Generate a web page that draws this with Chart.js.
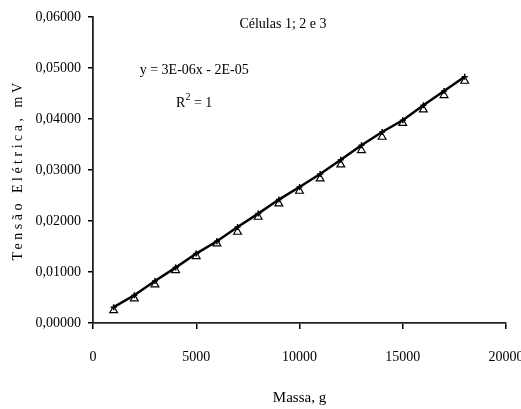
<!DOCTYPE html>
<html>
<head>
<meta charset="utf-8">
<script src="https://cdn.jsdelivr.net/npm/chart.js@4/dist/chart.umd.min.js"></script>
<style>
  html, body { margin: 0; padding: 0; background: #fff; }
  #wrap { width: 521px; height: 409px; }
</style>
</head>
<body>
<div id="wrap"><canvas id="chart" width="521" height="409"></canvas></div>
<script>
// massa (g)
const massa = [1000, 2000, 3000, 4000, 5000, 6000, 7000, 8000, 9000, 10000, 11000, 12000, 13000, 14000, 15000, 16000, 17000, 18000];
// tensão medida (triângulos)
const tensaoPontos = [0.00248, 0.00478, 0.00753, 0.01033, 0.01308, 0.01557, 0.01784, 0.02078, 0.02341, 0.02588, 0.02831, 0.03106, 0.03386, 0.03647, 0.03920, 0.04184, 0.04465, 0.04745];
// linha preta (série com marcadores pequenos)
const tensaoLinha = [0.00310, 0.00543, 0.00824, 0.01086, 0.01361, 0.01602, 0.01882, 0.02145, 0.02420, 0.02667, 0.02920, 0.03200, 0.03484, 0.03745, 0.03975, 0.04269, 0.04550, 0.04830];

const xTicks = [0, 5000, 10000, 15000, 20000];
const yTicks = [0, 0.01, 0.02, 0.03, 0.04, 0.05, 0.06];

const titulo = "Células 1; 2 e 3";
const equacao = "y = 3E-06x - 2E-05";
const tituloY = "Tensão Elétrica, mV";
const tituloX = "Massa, g";

const FONT = "'Liberation Serif', 'Times New Roman', serif";

// textos soltos dentro da área do gráfico
const textPlugin = {
  id: "textos",
  afterDraw(chart) {
    const { ctx, scales: { x, y } } = chart;
    ctx.save();
    ctx.fillStyle = "#000";
    ctx.textAlign = "center";
    ctx.textBaseline = "middle";
    ctx.font = "14px " + FONT;
    ctx.fillText(titulo, x.getPixelForValue(9200), y.getPixelForValue(0.0586));
    ctx.fillText(equacao, x.getPixelForValue(4900), y.getPixelForValue(0.0495));

    // R² = 1
    const rx = x.getPixelForValue(4900);
    const ry = y.getPixelForValue(0.0430);
    const w1 = ctx.measureText("R").width;
    const w3 = ctx.measureText(" = 1").width;
    ctx.font = "10px " + FONT;
    const w2 = ctx.measureText("2").width;
    const start = rx - (w1 + w2 + w3) / 2;
    ctx.textAlign = "left";
    ctx.font = "14px " + FONT;
    ctx.fillText("R", start, ry);
    ctx.fillText(" = 1", start + w1 + w2, ry);
    ctx.font = "10px " + FONT;
    ctx.fillText("2", start + w1, ry - 6);

    // título do eixo y com espaçamento
    ctx.font = "14px " + FONT;
    ctx.letterSpacing = "3.5px";
    ctx.textAlign = "center";
    ctx.translate(18, (y.top + y.bottom) / 2);
    ctx.rotate(-Math.PI / 2);
    ctx.fillText(tituloY, 0, 0);
    ctx.restore();
  }
};

new Chart(document.getElementById("chart"), {
  type: "scatter",
  data: {
    datasets: [
      {
        label: "linha",
        data: massa.map((m, i) => ({ x: m, y: tensaoLinha[i] })),
        showLine: true,
        borderColor: "#000",
        borderWidth: 2.5,
        backgroundColor: "#000",
        pointStyle: "cross",
        pointRadius: 3,
        pointBorderWidth: 1.5,
        pointBorderColor: "#000"
      },
      {
        label: "Células",
        data: massa.map((m, i) => ({ x: m, y: tensaoPontos[i] })),
        showLine: false,
        pointStyle: "triangle",
        pointRadius: 4.5,
        pointBorderWidth: 1.2,
        pointBorderColor: "#000",
        pointBackgroundColor: "#fff"
      }
    ]
  },
  options: {
    responsive: false,
    animation: false,
    layout: { padding: { top: 17, right: 15, left: 0, bottom: 0 } },
    plugins: {
      legend: { display: false },
      tooltip: { enabled: false }
    },
    scales: {
      x: {
        type: "linear",
        min: 0,
        max: 20000,
        afterBuildTicks: s => { s.ticks = xTicks.map(v => ({ value: v })); },
        afterFit: s => { s.height = 86; s.paddingLeft = 0; s.paddingRight = 0; },
        grid: { drawOnChartArea: false, drawTicks: true, tickLength: 6, color: "#000", lineWidth: 1.5 },
        border: { display: true, color: "#222", width: 1.8 },
        ticks: {
          color: "#000",
          padding: 20,
          maxRotation: 0,
          font: { family: FONT, size: 14 },
          callback: v => String(v)
        },
        title: {
          display: true,
          text: tituloX,
          color: "#000",
          font: { family: FONT, size: 15 },
          padding: { top: 0, bottom: 2 }
        }
      },
      y: {
        type: "linear",
        min: 0,
        max: 0.06,
        afterBuildTicks: s => { s.ticks = yTicks.map(v => ({ value: v })); },
        afterFit: s => { s.width = 93; s.paddingTop = 0; s.paddingBottom = 0; },
        grid: { drawOnChartArea: false, drawTicks: true, tickLength: 5, color: "#000", lineWidth: 1.5 },
        border: { display: true, color: "#222", width: 1.8 },
        ticks: {
          color: "#000",
          padding: 7,
          font: { family: FONT, size: 14 },
          callback: v => v.toFixed(5).replace(".", ",")
        },
        title: { display: false }
      }
    }
  },
  plugins: [textPlugin]
});
</script>
</body>
</html>
